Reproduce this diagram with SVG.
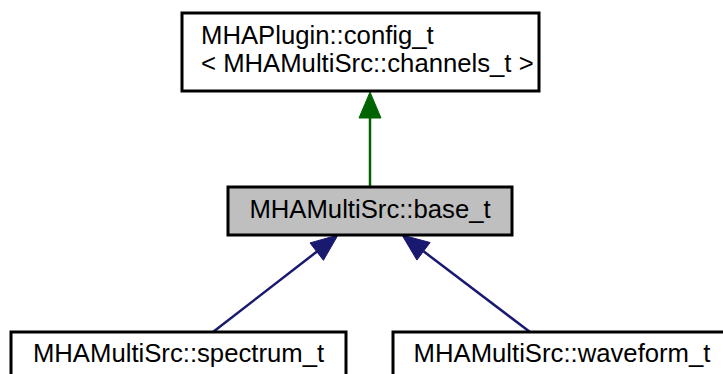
<svg xmlns="http://www.w3.org/2000/svg" width="723" height="374" viewBox="0 0 723 374">
<style>
.box{fill:#ffffff;stroke:#000000;stroke-width:3}
.sel{fill:#bfbfbf;stroke:#000000;stroke-width:3}
.t{font-family:"Liberation Sans",Arial,sans-serif;font-size:25.7px;fill:#000000}
.c{text-anchor:middle}
.g{stroke:#006400;stroke-width:2.5;fill:none}
.gh{fill:#006400;stroke:#006400}
.b{stroke:#191970;stroke-width:2.5;fill:none}
.bh{fill:#191970;stroke:#191970}
</style>
<rect width="723" height="374" fill="#ffffff"/>
<g id="connectors">
<line class="g" x1="370" y1="187" x2="370" y2="117"/>
<polygon class="gh" points="370,92 359,118 381,118"/>
<line class="b" x1="213" y1="332" x2="317" y2="251.5"/>
<polygon class="bh" points="338,235 310,242.9 323.4,260.3"/>
<line class="b" x1="530" y1="332" x2="423.5" y2="251.3"/>
<polygon class="bh" points="402,235 430.1,242.5 416.9,260.1"/>
</g>
<g id="node_config">
<rect class="box" x="182" y="13" width="357" height="78"/>
<text class="t" x="201" y="43.5">MHAPlugin::config_t</text>
<text class="t" x="201" y="72">&lt; MHAMultiSrc::channels_t &gt;</text>
</g>
<g id="node_base">
<rect class="sel" x="228" y="187" width="284" height="48"/>
<text class="t c" x="370" y="218">MHAMultiSrc::base_t</text>
</g>
<g id="node_spectrum">
<rect class="box" x="11" y="332" width="335" height="50"/>
<text class="t c" x="178.5" y="362">MHAMultiSrc::spectrum_t</text>
</g>
<g id="node_waveform">
<rect class="box" x="393" y="332" width="340" height="50"/>
<text class="t c" x="562" y="362">MHAMultiSrc::waveform_t</text>
</g>
</svg>
